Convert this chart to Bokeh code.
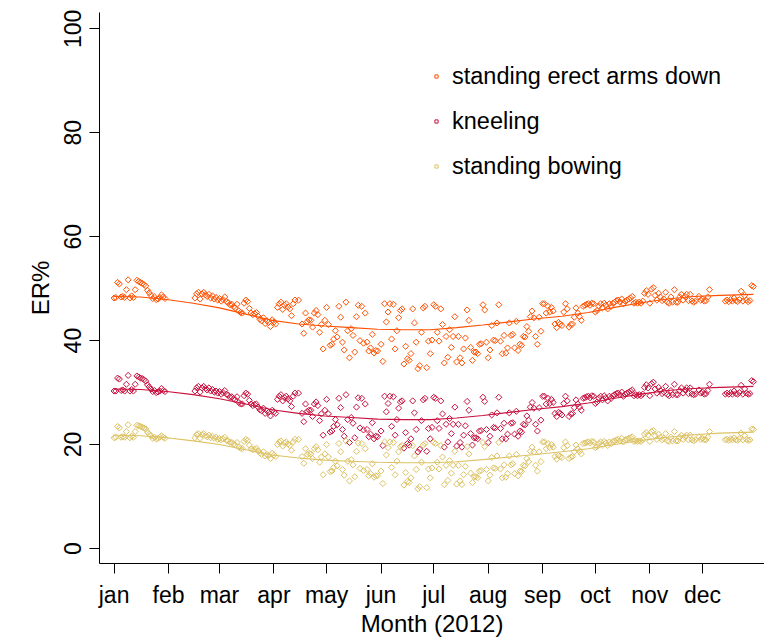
import numpy as np
from bokeh.plotting import figure
from bokeh.models import Range1d, FixedTicker, Legend, LegendItem
from bokeh.embed import file_html
from bokeh.resources import INLINE

N = None

month_labels = ["jan", "feb", "mar", "apr", "may", "jun",
                "jul", "aug", "sep", "oct", "nov", "dec"]
month_start_day = [0, 31, 60, 91, 121, 152, 182, 213, 244, 274, 305, 335]
y_ticks = [0, 20, 40, 60, 80, 100]
series_names = ["standing erect arms down", "kneeling", "standing bowing"]

# daily ER% values, index = day of year 2012 (0 = 1 Jan); None = no data
erect = [
    48.2, 48.3, 51.2, 50.9, 48.4, 48.5, 48.3, 49.8, 51.7, 48.2,
    48.6, 48.3, 49.8, 51.6, 51.4, 51.2, 51.0, 50.8, 50.5, 49.7,
    49.2, 48.7, 48.1, 48.4, 47.9, 48.0, 48.3, 48.8, 48.4, 48.1,
    N, N, N, N, N, N, N, N, N, N,
    N, N, N, N, N, N, 48.2, 49.0, 49.3, 48.0,
    49.0, 49.3, 48.8, 48.5, 48.9, 48.2, 48.6, 48.0, 48.3, 47.8,
    48.1, 47.6, 47.9, 48.4, 47.5, 47.3, 46.9, 47.0, 46.5, 46.3,
    47.0, 45.7, 45.4, 45.3, 47.2, 47.8, 47.5, 46.2, 45.3, 45.0,
    45.2, 45.4, 44.7, 44.1, 43.8, 44.4, 43.3, 43.8, 43.5, 42.7,
    44.0, 43.6, 43.2, 46.4, 47.1, 47.4, 46.0, 46.8, 47.1, 46.5,
    46.1, 44.8, 47.1, 47.8, N, 47.8, N, 43.2, 41.4, 45.3,
    43.7, 44.0, 43.9, 42.6, 45.3, 45.8, 45.0, 41.6, 43.1, 38.4,
    43.9, 46.4, 43.1, 39.1, 39.3, 40.3, 41.9, 40.7, 46.6, 44.5,
    39.7, 38.2, 47.4, 41.9, 36.7, 42.3, 41.0, 37.8, 44.6, 46.8,
    40.0, 46.6, 39.5, 45.3, 39.7, 38.0, 38.6, 41.2, 37.6, 38.1,
    38.0, N, 39.3, 36.0, 47.1, 43.6, 45.5, 47.1, 40.3, 47.0,
    38.4, 41.9, 44.4, 45.8, 46.1, 35.5, 38.9, 36.5, 36.2, 37.5,
    46.1, 43.4, 39.7, 34.6, 35.2, 41.6, 46.3, 46.6, 34.8, 39.9,
    37.5, 40.1, 46.9, 46.6, 41.6, 39.9, 46.1, 43.1, 35.7, 40.8,
    36.8, 42.1, 38.7, 40.8, 44.6, 35.9, 40.8, 36.7, 35.7, 38.4,
    40.5, 45.9, 43.9, 38.7, 36.2, 37.8, 37.8, 37.5, 39.3, 39.4,
    46.9, 45.9, 39.7, 36.7, 38.2, 42.9, 40.1, 40.0, 43.4, 46.9,
    39.9, 37.5, 41.0, 37.6, 38.6, 43.4, 41.0, 41.2, 38.6, 43.7,
    38.1, 39.3, 39.1, 40.8, 40.7, 42.7, 41.8, 44.6, 45.7, 44.4,
    40.8, 39.3, 44.5, 41.8, 47.1, 47.1, 45.3, 46.6, 45.5, 46.4,
    45.7, 43.2, 42.5, 43.5, 43.2, 42.9, 45.5, 47.1, 46.1, 42.6,
    43.1, 43.2, 44.5, 46.3, 45.3, 44.6, 43.9, 46.6, 46.8, 47.0,
    47.1, 46.8, 47.2, 47.1, 45.5, 45.8, 46.6, 47.1, 46.3, 47.2,
    46.8, 46.1, 47.1, 46.6, 47.2, 47.4, 47.7, 47.8, 47.4, 48.0,
    47.1, 47.6, 47.8, 48.0, 48.2, 48.5, 47.2, 47.4, 47.2, 47.4,
    47.2, 47.6, 49.1, 49.6, 48.9, 47.2, 49.9, 50.2, 48.7, 47.8,
    49.1, 48.4, 47.7, 48.0, 49.3, 47.4, 47.2, 48.4, 47.4, 49.8,
    47.4, 47.4, 48.4, 48.9, 47.8, 48.5, 48.9, 47.7, 48.9, 47.6,
    47.4, 47.6, N, 48.5, 47.8, 48.0, 47.6, 47.7, 48.4, 49.8,
    N, N, N, N, N, N, N, N, 47.6, 47.8,
    47.5, 47.9, 47.6, 48.2, 47.7, 47.5, 47.9, 49.5, 47.6, 48.7,
    47.8, 47.5, 47.7, 50.6, 50.4, N,
]

kneeling = [
    30.3, 30.3, 32.8, 32.6, 30.4, 30.5, 30.3, 31.6, 33.3, 30.3,
    30.6, 30.3, 31.6, 33.2, 33.0, 32.8, 32.7, 32.5, 32.2, 31.5,
    31.1, 30.7, 30.2, 30.4, 30.0, 30.1, 30.3, 30.8, 30.4, 30.2,
    N, N, N, N, N, N, N, N, N, N,
    N, N, N, N, N, N, 30.3, 30.9, 31.2, 30.1,
    30.9, 31.2, 30.8, 30.5, 30.9, 30.3, 30.6, 30.1, 30.3, 29.9,
    30.2, 29.7, 30.0, 30.4, 29.7, 29.5, 29.1, 29.2, 28.8, 28.6,
    29.2, 28.1, 27.8, 27.8, 29.4, 29.9, 29.7, 28.5, 27.8, 27.5,
    27.7, 27.8, 27.2, 26.7, 26.5, 27.0, 26.0, 26.5, 26.2, 25.5,
    26.6, 26.3, 26.0, 28.7, 29.3, 29.6, 28.4, 29.0, 29.3, 28.8,
    28.4, 27.3, 29.3, 29.9, N, 29.9, N, 26.0, 24.4, 27.8,
    26.4, 26.6, 26.6, 25.4, 27.8, 28.2, 27.5, 24.6, 25.9, 21.8,
    26.6, 28.7, 25.9, 22.4, 22.6, 23.5, 24.8, 23.8, 28.9, 27.1,
    22.9, 21.6, 29.6, 24.8, 20.4, 25.2, 24.1, 21.3, 27.2, 29.0,
    23.2, 28.9, 22.8, 27.8, 22.9, 21.5, 22.0, 24.2, 21.1, 21.6,
    21.5, N, 22.6, 19.8, 29.3, 26.3, 27.9, 29.3, 23.5, 29.2,
    21.8, 24.8, 27.0, 28.2, 28.4, 19.3, 22.3, 20.2, 19.9, 21.1,
    28.4, 26.1, 22.9, 18.6, 19.1, 24.6, 28.6, 28.9, 18.7, 23.1,
    21.1, 23.3, 29.1, 28.9, 24.6, 23.1, 28.4, 25.9, 19.5, 23.9,
    20.5, 25.0, 22.1, 23.9, 27.2, 19.7, 23.9, 20.4, 19.5, 21.8,
    23.6, 28.3, 26.6, 22.1, 19.9, 21.3, 21.3, 21.1, 22.6, 22.7,
    29.1, 28.3, 22.9, 20.4, 21.6, 25.7, 23.3, 23.2, 26.1, 29.1,
    23.1, 21.1, 24.1, 21.1, 22.0, 26.1, 24.1, 24.2, 22.0, 26.4,
    21.6, 22.6, 22.4, 23.9, 23.8, 25.5, 24.7, 27.2, 28.1, 27.0,
    23.9, 22.6, 27.1, 24.7, 29.3, 29.3, 27.8, 28.9, 27.9, 28.7,
    28.1, 26.0, 25.4, 26.2, 26.0, 25.7, 27.9, 29.3, 28.4, 25.4,
    25.9, 26.0, 27.1, 28.6, 27.8, 27.2, 26.6, 28.9, 29.0, 29.2,
    29.3, 29.0, 29.4, 29.3, 27.9, 28.2, 28.9, 29.3, 28.6, 29.4,
    29.0, 28.4, 29.3, 28.9, 29.4, 29.6, 29.8, 29.9, 29.6, 30.1,
    29.3, 29.7, 29.9, 30.1, 30.3, 30.5, 29.4, 29.6, 29.4, 29.6,
    29.4, 29.7, 31.0, 31.5, 30.9, 29.4, 31.7, 32.0, 30.7, 29.9,
    31.0, 30.4, 29.8, 30.1, 31.2, 29.6, 29.4, 30.4, 29.6, 31.6,
    29.6, 29.6, 30.4, 30.9, 29.9, 30.5, 30.9, 29.8, 30.9, 29.7,
    29.6, 29.7, N, 30.5, 29.9, 30.1, 29.7, 29.8, 30.4, 31.6,
    N, N, N, N, N, N, N, N, 29.7, 29.9,
    29.7, 30.0, 29.7, 30.3, 29.8, 29.7, 30.0, 31.4, 29.7, 30.7,
    29.9, 29.7, 29.8, 32.3, 32.1, N,
]

bowing = [
    21.3, 21.4, 23.5, 23.2, 21.4, 21.5, 21.4, 22.5, 23.8, 21.3,
    21.6, 21.4, 22.5, 23.7, 23.6, 23.5, 23.3, 23.2, 23.0, 22.4,
    22.0, 21.7, 21.2, 21.4, 21.1, 21.2, 21.4, 21.7, 21.4, 21.2,
    N, N, N, N, N, N, N, N, N, N,
    N, N, N, N, N, N, 21.3, 21.9, 22.1, 21.2,
    21.9, 22.1, 21.7, 21.5, 21.8, 21.3, 21.6, 21.2, 21.4, 21.0,
    21.2, 20.9, 21.1, 21.4, 20.8, 20.7, 20.4, 20.4, 20.1, 19.9,
    20.4, 19.5, 19.3, 19.2, 20.6, 21.0, 20.8, 19.9, 19.2, 19.0,
    19.1, 19.3, 18.8, 18.4, 18.1, 18.6, 17.8, 18.1, 17.9, 17.3,
    18.3, 18.0, 17.7, 20.0, 20.5, 20.7, 19.7, 20.3, 20.5, 20.1,
    19.8, 18.9, 20.5, 21.0, N, 21.0, N, 17.7, 16.4, 19.2,
    18.1, 18.3, 18.2, 17.3, 19.2, 19.6, 19.0, 16.6, 17.6, 14.2,
    18.2, 20.0, 17.6, 14.8, 14.9, 15.6, 16.8, 15.9, 20.2, 18.6,
    15.2, 14.1, 20.7, 16.8, 13.0, 17.1, 16.1, 13.8, 18.7, 20.3,
    15.4, 20.2, 15.0, 19.2, 15.2, 14.0, 14.4, 16.3, 13.7, 14.0,
    14.0, N, 14.9, 12.5, 20.5, 18.0, 19.4, 20.5, 15.6, 20.4,
    14.2, 16.8, 18.6, 19.6, 19.8, 12.2, 14.6, 12.9, 12.7, 13.6,
    19.8, 17.8, 15.2, 11.5, 11.9, 16.6, 19.9, 20.2, 11.7, 15.3,
    13.6, 15.5, 20.4, 20.2, 16.6, 15.3, 19.8, 17.6, 12.3, 16.0,
    13.1, 16.9, 14.5, 16.0, 18.7, 12.4, 16.0, 13.0, 12.3, 14.2,
    15.8, 19.6, 18.2, 14.5, 12.7, 13.8, 13.8, 13.6, 14.9, 15.0,
    20.4, 19.6, 15.2, 13.0, 14.1, 17.5, 15.5, 15.4, 17.8, 20.4,
    15.3, 13.6, 16.1, 13.7, 14.4, 17.8, 16.1, 16.3, 14.4, 18.1,
    14.0, 14.9, 14.8, 16.0, 15.9, 17.3, 16.7, 18.7, 19.5, 18.6,
    16.0, 14.9, 18.6, 16.7, 20.5, 20.5, 19.2, 20.2, 19.4, 20.0,
    19.5, 17.7, 17.2, 17.9, 17.7, 17.5, 19.4, 20.5, 19.8, 17.3,
    17.6, 17.7, 18.6, 19.9, 19.2, 18.7, 18.2, 20.2, 20.3, 20.4,
    20.5, 20.3, 20.6, 20.5, 19.4, 19.6, 20.2, 20.5, 19.9, 20.6,
    20.3, 19.8, 20.5, 20.2, 20.6, 20.7, 20.9, 21.0, 20.7, 21.2,
    20.5, 20.9, 21.0, 21.2, 21.3, 21.5, 20.6, 20.7, 20.6, 20.7,
    20.6, 20.9, 22.0, 22.3, 21.8, 20.6, 22.5, 22.7, 21.7, 21.0,
    22.0, 21.4, 20.9, 21.2, 22.1, 20.7, 20.6, 21.4, 20.7, 22.5,
    20.7, 20.7, 21.4, 21.8, 21.0, 21.5, 21.8, 20.9, 21.8, 20.9,
    20.7, 20.9, N, 21.5, 21.0, 21.2, 20.9, 20.9, 21.4, 22.5,
    N, N, N, N, N, N, N, N, 20.9, 21.0,
    20.8, 21.1, 20.9, 21.3, 20.9, 20.8, 21.1, 22.2, 20.9, 21.7,
    21.0, 20.8, 20.9, 23.0, 22.9, N,
]

# smoothed (loess-like) curves
smooth_days = [0, 15, 30, 45, 60, 75, 90, 105, 120, 135, 150, 165, 180,
               195, 210, 225, 240, 255, 270, 285, 300, 315, 330, 345, 364]
erect_smooth = [48.5, 48.4, 47.9, 47.2, 46.3, 45.1, 43.9, 43.2, 42.8, 42.5,
                42.2, 42.1, 42.1, 42.5, 43.0, 43.6, 44.2, 44.7, 45.4, 46.4,
                47.3, 48.0, 48.5, 48.7, 48.9]
kneeling_smooth = [30.7, 30.6, 30.2, 29.6, 28.8, 27.8, 26.7, 26.0, 25.5, 25.2,
                   24.9, 24.8, 24.8, 25.1, 25.6, 26.2, 26.8, 27.3, 28.0, 28.9,
                   29.7, 30.4, 30.8, 31.0, 31.2]
bowing_smooth = [21.8, 21.7, 21.3, 20.7, 20.0, 19.0, 18.0, 17.4, 17.0, 16.8,
                 16.6, 16.5, 16.5, 16.7, 17.1, 17.6, 18.1, 18.6, 19.2, 20.0,
                 20.8, 21.4, 21.9, 22.2, 22.4]

FONT = "Liberation Sans"
colors = ["#FF5000", "#C8103E", "#DCC262"]

p = figure(frame_width=665, frame_height=551,
           x_range=Range1d(-8.31, 370.3), y_range=Range1d(-2.89, 103.14),
           output_backend="svg", toolbar_location=None,
           min_border_left=99, min_border_right=0,
           min_border_top=12, min_border_bottom=66)
p.grid.visible = False
p.outline_line_color = None
p.background_fill_color = "white"
p.border_fill_color = "white"

items = []
for vals, smooth, col, name in zip([erect, kneeling, bowing],
                                   [erect_smooth, kneeling_smooth, bowing_smooth],
                                   colors, series_names):
    v = np.array(vals, dtype=float)
    d = np.arange(len(v))
    ok = ~np.isnan(v)
    r = p.scatter(d[ok], v[ok], marker="square", angle=np.pi / 4, size=4.3,
                  fill_color=None, line_color=col, line_width=1)
    p.line(smooth_days, smooth, line_color=col, line_width=1.1)
    items.append(LegendItem(label=name, renderers=[r]))

legend = Legend(items=items, location=(333, 382), orientation="vertical",
                border_line_color=None, background_fill_alpha=0,
                padding=0, margin=0, spacing=15,
                glyph_width=8, glyph_height=30, label_height=30,
                label_standoff=12,
                label_text_font=FONT, label_text_font_size="23.5px",
                label_text_color="black")
p.add_layout(legend, "center")

for ax in (p.xaxis[0], p.yaxis[0]):
    ax.axis_line_color = "black"
    ax.axis_line_width = 1
    ax.major_tick_line_color = "black"
    ax.major_tick_out = 10
    ax.major_tick_in = 0
    ax.minor_tick_line_color = None
    ax.major_label_text_font = FONT
    ax.major_label_text_font_size = "23px"
    ax.major_label_text_color = "black"
    ax.axis_label_text_font = FONT
    ax.axis_label_text_font_size = "24px"
    ax.axis_label_text_font_style = "normal"
    ax.axis_label_text_color = "black"

p.xaxis.ticker = FixedTicker(ticks=month_start_day)
p.xaxis.major_label_overrides = {d: m for d, m in zip(month_start_day, month_labels)}
p.xaxis.axis_label = "Month (2012)"
p.xaxis.major_label_standoff = 8
p.xaxis.axis_label_standoff = -1

p.yaxis.ticker = FixedTicker(ticks=y_ticks)
p.yaxis.major_label_orientation = "vertical"
p.yaxis.axis_label = "ER%"
p.yaxis.major_label_standoff = 8
p.yaxis.axis_label_standoff = 8

open("out.html", "w").write(file_html(p, INLINE))
